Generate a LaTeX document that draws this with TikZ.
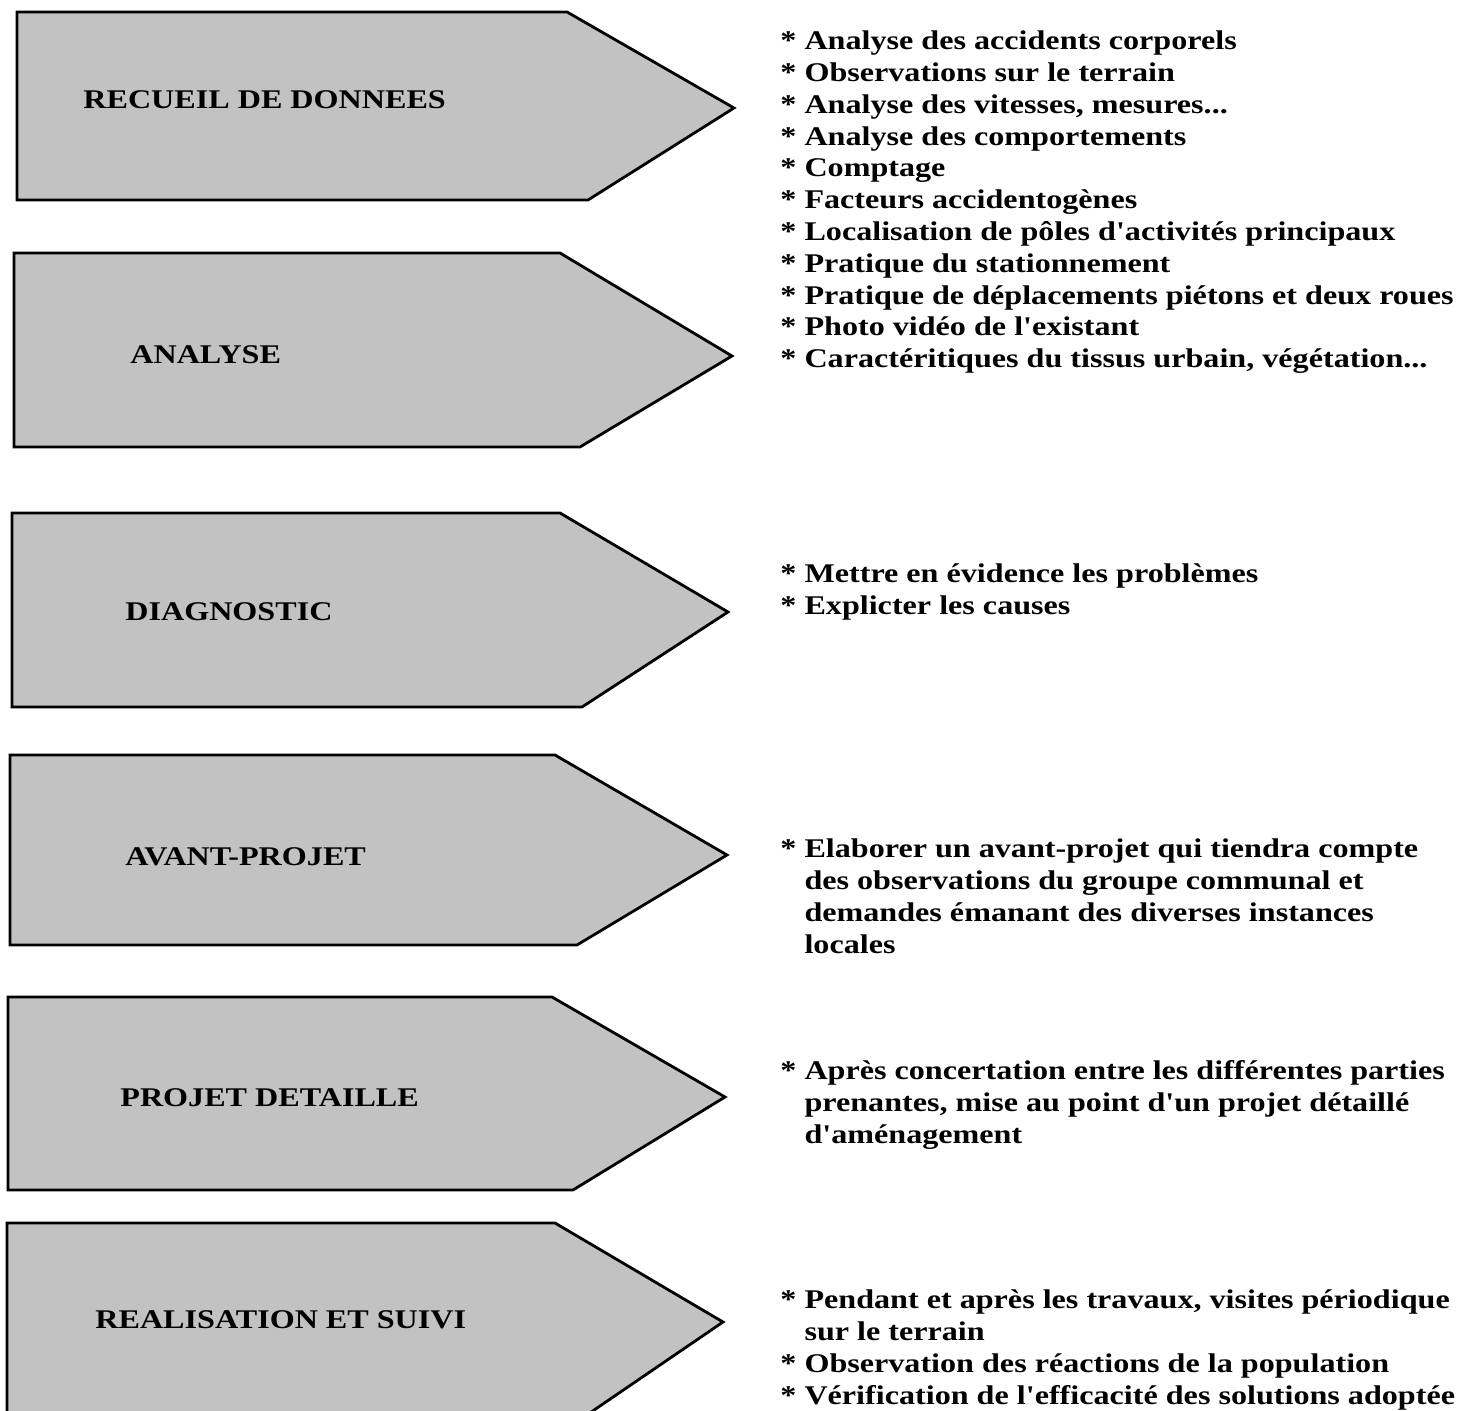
\documentclass[tikz,border=0pt]{standalone}
\usepackage{fontspec}
\setmainfont{Liberation Serif}[Ligatures=TeXOff]
\usepackage{graphicx}
\usetikzlibrary{positioning}
\newcommand{\wide}[1]{\scalebox{1.19}[1]{#1}}
\newcommand{\items}[1]{\wide{\begin{tabular}[t]{@{}l@{}}#1\end{tabular}}}
\newcommand{\cont}{\hphantom{* }}
\definecolor{stagegray}{gray}{0.76}

\tikzset{
    stage/.style={draw=black, line width=1.4pt, fill=stagegray, line join=miter},
    stagelabel/.style={anchor=west, inner sep=0pt, font=\fontsize{13.5}{16}\selectfont\bfseries},
    itemlist/.style={anchor=north west, inner sep=0pt, font=\fontsize{13.5}{15.9}\selectfont\bfseries}
}

\begin{document}
\begin{tikzpicture}[x=0.5pt,y=-0.5pt]
    \useasboundingbox (0,0) rectangle (1481,1411);

        % draw the stage arrows
        \foreach \l/\t/\b/\ct/\cb/\tx/\ty in {17/12/200/567/588/734/108,
            14/253/447/560/580/732/356, 12/513/707/560/582/728/612,
            10/755/945/555/577/727/855, 8/997/1190/552/573/725/1097,
            7/1223/1421/555/578/723/1322}
        \draw[stage] (\l,\t) -- (\ct,\t) -- (\tx,\ty) -- (\cb,\b) -- (\l,\b) -- cycle;

        % stage names
        \foreach \name/\x/\y/\descr in {recueil/83/100/RECUEIL DE DONNEES,
            analyse/130/355/ANALYSE, diagnostic/125/612/DIAGNOSTIC,
            avantprojet/125/857/AVANT-PROJET, projet/120/1098/PROJET DETAILLE,
            realisation/95/1320/REALISATION ET SUIVI}
        \node[stagelabel] (\name) at (\x,\y) {\wide{\descr}};

        % what each stage covers
        \node[itemlist] (recueil-txt) at (780,27) {\items{%
            {*} Analyse des accidents corporels\\
            {*} Observations sur le terrain\\
            {*} Analyse des vitesses, mesures...\\
            {*} Analyse des comportements\\
            {*} Comptage\\
            {*} Facteurs accidentogènes\\
            {*} Localisation de pôles d'activités principaux\\
            {*} Pratique du stationnement\\
            {*} Pratique de déplacements piétons et deux roues\\
            {*} Photo vidéo de l'existant\\
            {*} Caractéritiques du tissus urbain, végétation...}};
        \node[itemlist] (diagnostic-txt) at (780,560) {\items{%
            {*} Mettre en évidence les problèmes\\
            {*} Explicter les causes}};
        \node[itemlist] (avantprojet-txt) at (780,835) {\items{%
            {*} Elaborer un avant-projet qui tiendra compte\\
            \cont des observations du groupe communal et\\
            \cont demandes émanant des diverses instances\\
            \cont locales}};
        \node[itemlist] (projet-txt) at (780,1057) {\items{%
            {*} Après concertation entre les différentes parties\\
            \cont prenantes, mise au point d'un projet détaillé\\
            \cont d'aménagement}};
        \node[itemlist] (realisation-txt) at (780,1286) {\items{%
            {*} Pendant et après les travaux, visites périodique\\
            \cont sur le terrain\\
            {*} Observation des réactions de la population\\
            {*} Vérification de l'efficacité des solutions adoptée}};
\end{tikzpicture}
\end{document}
